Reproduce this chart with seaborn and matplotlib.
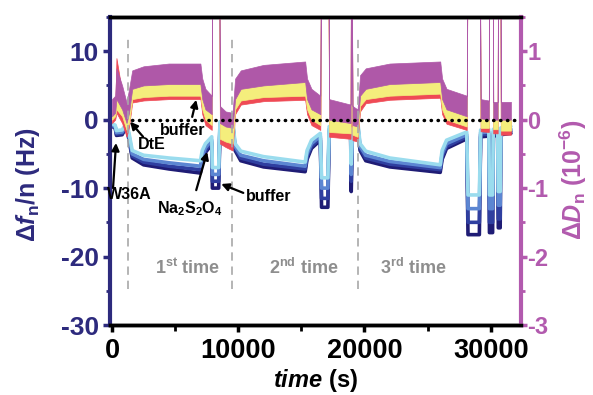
import matplotlib
matplotlib.use("Agg")
import matplotlib.pyplot as plt
from matplotlib.ticker import MultipleLocator
import seaborn as sns
import pandas as pd

# ---------------- data ----------------
time_s = [0, 250, 350, 800, 1150, 1350, 1600, 2500, 4500, 7000, 7150, 7400, 7900,
          7950, 8450, 8550, 9000, 9550, 9750, 10200, 12000, 15300, 15450, 15800,
          16500, 16600, 17100, 17200, 18900, 18950, 19050, 19450, 19650, 20100,
          22000, 26000, 26150, 26500, 28100, 28200, 29100, 29200, 29850, 29900,
          30150, 30200, 30550, 30600, 30750, 30800, 31600]

# frequency shifts (Hz), four overtones
f_navy = [-1.0, -1.2, -2.3, -2.2, -1.0, -3.0, -5.6, -6.6, -7.2, -7.8, -6.2, -4.8, -3.6,
          -10.0, -10.0, -1.2, -0.8, -0.6, -4.5, -6.0, -6.9, -7.6, -5.8, -4.2,
          -3.0, -12.8, -12.8, -2.0, -1.5, -10.5, -1.5, -1.0, -4.5, -6.0,
          -6.9, -7.7, -5.8, -4.2, -2.8, -16.8, -16.8, -2.5, -2.4, -16.5,
          -16.5, -2.4, -2.3, -15.8, -15.8, -2.2, -2.0]
f_dark = [-0.9, -1.1, -2.1, -2.0, -0.9, -2.7, -5.3, -6.2, -6.8, -7.3, -5.8, -4.5, -3.3,
          -9.0, -9.0, -0.9, -0.6, -0.4, -4.2, -5.6, -6.5, -7.2, -5.4, -3.9,
          -2.7, -11.5, -11.5, -1.7, -1.2, -9.0, -1.2, -0.7, -4.2, -5.6,
          -6.5, -7.3, -5.4, -3.9, -2.5, -15.0, -15.0, -2.2, -2.1, -15.0,
          -15.0, -2.1, -2.0, -14.5, -14.5, -1.9, -1.7]
f_blue = [-0.8, -1.0, -1.9, -1.8, -0.7, -2.4, -5.0, -5.8, -6.3, -6.8, -5.3, -4.1, -3.0,
          -8.0, -8.0, -0.6, -0.3, -0.2, -3.9, -5.2, -6.0, -6.8, -5.0, -3.5,
          -2.4, -10.0, -10.0, -1.4, -0.9, -8.0, -0.9, -0.4, -3.9, -5.2,
          -6.1, -7.0, -5.0, -3.5, -2.2, -13.0, -13.0, -1.9, -1.8, -13.0,
          -13.0, -1.8, -1.7, -12.5, -12.5, -1.6, -1.4]
f_cyan = [-0.6, -0.8, -1.6, -1.5, -0.5, -2.0, -4.5, -5.2, -5.6, -6.0, -4.5, -3.5, -2.5,
          -7.0, -7.0, -0.3, 0.0, 0.1, -3.5, -4.6, -5.4, -6.2, -4.5, -3.0,
          -2.0, -8.5, -8.5, -1.0, -0.5, -6.5, -0.5, 0.0, -3.5, -4.6,
          -5.6, -6.6, -4.5, -3.0, -1.8, -11.0, -11.0, -1.5, -1.4, -11.0,
          -11.0, -1.4, -1.3, -10.5, -10.5, -1.2, -1.0]

# dissipation shifts (1e-6): noise band edges (low / high)
d_red_lo = [-0.05, 0.0, 0.1, -0.05, -0.25, -0.1, 0.25, 0.28, 0.3, 0.3, 0.08, -0.08, -0.15,
            4, 4, -0.35, -0.4, -0.45, 0.08, 0.22, 0.27, 0.29, 0.08, -0.08,
            -0.15, 4, 4, -0.25, -0.28, 4, -0.3, -0.32, 0.12, 0.24,
            0.29, 0.32, 0.08, -0.06, -0.15, 4, 4, -0.17, -0.18, 4,
            4, -0.2, -0.2, 4, 4, -0.22, -0.22]
d_red_hi = [0.1, 0.15, 0.9, 0.4, 0.0, 0.1, 0.4, 0.45, 0.45, 0.45, 0.3, 0.1, 0.0,
            4, 4, -0.1, -0.15, -0.2, 0.3, 0.4, 0.45, 0.5, 0.3, 0.1,
            0.0, 4, 4, -0.05, -0.1, 4, -0.1, -0.15, 0.35, 0.45,
            0.48, 0.5, 0.3, 0.1, 0.0, 4, 4, 0.0, 0.0, 4,
            4, 0.0, 0.0, 4, 4, -0.02, -0.02]
d_yel_lo = [0.0, 0.05, 0.15, 0.05, -0.15, -0.05, 0.3, 0.33, 0.35, 0.35, 0.15, 0.0, -0.08,
            4, 4, -0.28, -0.32, -0.35, 0.15, 0.28, 0.33, 0.35, 0.15, 0.0,
            -0.08, 4, 4, -0.18, -0.2, 4, -0.22, -0.25, 0.2, 0.3,
            0.35, 0.38, 0.15, 0.0, -0.1, 4, 4, -0.12, -0.12, 4,
            4, -0.14, -0.14, 4, 4, -0.16, -0.16]
d_yel_hi = [0.15, 0.2, 0.4, 0.3, 0.05, 0.2, 0.5, 0.55, 0.56, 0.56, 0.35, 0.2, 0.12,
            4, 4, 0.0, -0.05, -0.08, 0.35, 0.5, 0.55, 0.58, 0.35, 0.2,
            0.1, 4, 4, 0.05, 0.0, 4, -0.02, -0.05, 0.4, 0.52,
            0.56, 0.6, 0.35, 0.2, 0.08, 4, 4, 0.05, 0.04, 4,
            4, 0.03, 0.03, 4, 4, 0.02, 0.02]
d_mag_lo = [0.05, 0.1, 0.3, 0.15, -0.05, 0.1, 0.45, 0.5, 0.52, 0.52, 0.3, 0.15, 0.08,
            4, 4, -0.05, -0.1, -0.12, 0.3, 0.45, 0.5, 0.55, 0.3, 0.15,
            0.08, 4, 4, 0.0, -0.05, 4, -0.08, -0.1, 0.35, 0.45,
            0.52, 0.55, 0.3, 0.15, 0.05, 4, 4, 0.02, 0.0, 4,
            4, 0.0, 0.0, 4, 4, 0.0, 0.0]
d_mag_hi = [0.3, 0.35, 0.75, 0.5, 0.25, 0.45, 0.72, 0.78, 0.82, 0.82, 0.6, 0.45, 0.35,
            4, 4, 0.2, 0.12, 0.1, 0.6, 0.72, 0.8, 0.85, 0.6, 0.45,
            0.35, 4, 4, 0.3, 0.22, 4, 0.2, 0.15, 0.65, 0.75,
            0.82, 0.85, 0.6, 0.45, 0.35, 4, 4, 0.3, 0.28, 4,
            4, 0.26, 0.26, 4, 4, 0.26, 0.26]

event_lines = [1270, 9500, 19450]
stage_labels = [r"1$^{\mathrm{st}}$ time", r"2$^{\mathrm{nd}}$ time", r"3$^{\mathrm{rd}}$ time"]
stage_x = [5990, 15160, 23900]

# ---------------- style ----------------
NAVY = "#2D2A7D"
PURPLE = "#B25AAE"
sns.set_theme(style="ticks")
plt.rcParams.update({
    "font.family": ["Liberation Sans", "DejaVu Sans"],
    "font.weight": "bold",
    "axes.unicode_minus": False,
    "mathtext.fontset": "custom",
    "mathtext.rm": "Liberation Sans:bold",
    "mathtext.bf": "Liberation Sans:bold",
    "mathtext.it": "Liberation Sans:italic:bold",
    "mathtext.sf": "Liberation Sans:bold",
})

fig = plt.figure(figsize=(5.93, 3.95), dpi=100)
ax = fig.add_axes([0.1855, 0.1772, 0.6931, 0.7798])

rows = []
for name, vals in [("navy", f_navy), ("dark", f_dark), ("blue", f_blue), ("cyan", f_cyan)]:
    for t, v in zip(time_s, vals):
        rows.append({"time": t, "df": v, "trace": name})
df = pd.DataFrame(rows)
pal = {"navy": "#1F1C75", "dark": "#2F3FA0", "blue": "#5C86D2", "cyan": "#9ADCEE"}
sns.lineplot(data=df, x="time", y="df", hue="trace", palette=pal, estimator=None,
             sort=False, lw=2.6, legend=False, ax=ax)

ax.set_xlim(-160, 32400)
ax.set_ylim(-30, 15)

ax2 = ax.twinx()
ax2.set_ylim(-3, 1.5)
ax2.fill_between(time_s, d_red_lo, d_red_hi, color="#EF4A55", lw=0.5)
ax2.fill_between(time_s, d_yel_lo, d_yel_hi, color="#F4EE7C", lw=0.5)
ax2.fill_between(time_s, d_mag_lo, d_mag_hi, color="#AF58A8", lw=0.5)

# zero reference line
ax2.plot([1600, 32100], [0, 0], color="black", lw=2.5, linestyle=(0, (0.1, 1.9)),
         dash_capstyle="round")
# stage separators
for t in event_lines:
    ax2.plot([t, t], [-2.47, 1.18], color="#A8A8A8", lw=1.2, linestyle=(0, (5, 3.5)))
for t, s in zip(stage_x, stage_labels):
    ax2.text(t, -2.16, s, color="#8E8E8E", fontsize=13, ha="center", va="center",
             fontweight="bold")

# annotations (in frequency coordinates)
arrows = [((80, -10.0), (320, -3.4)), ((2460, -2.5), (1430, -0.3)),
          ((6350, 0.4), (6670, 2.9)), ((6670, -10.3), (7540, -4.7)),
          ((10400, -10.7), (8650, -9.4))]
for (start, end) in arrows:
    ax2.annotate("", xy=end, xycoords=ax.transData, xytext=start, textcoords=ax.transData,
                 arrowprops=dict(arrowstyle="-|>", color="black", lw=1.6,
                                 mutation_scale=11, shrinkA=0, shrinkB=0))
labels = [("W36A", 1350, -11.0), ("DtE", 3130, -3.7), ("buffer", 5600, -1.6),
          (r"Na$_2$S$_2$O$_4$", 6150, -13.0), ("buffer", 12420, -11.2)]
for s, t, v in labels:
    ax2.text(t, v, s, transform=ax.transData, fontsize=11.5, ha="center", va="center",
             color="black", fontweight="bold")

# ---------------- axes styling ----------------
ax.xaxis.set_major_locator(MultipleLocator(10000))
ax.xaxis.set_minor_locator(MultipleLocator(5000))
ax.yaxis.set_major_locator(MultipleLocator(10))
ax.yaxis.set_minor_locator(MultipleLocator(5))
ax2.yaxis.set_major_locator(MultipleLocator(1))
ax2.yaxis.set_minor_locator(MultipleLocator(0.5))

ax.tick_params(axis="x", which="major", colors="black", labelsize=19.5, width=2.5, length=5, pad=4)
ax.tick_params(axis="x", which="minor", colors="black", width=2, length=4)
ax.tick_params(axis="y", which="major", colors=NAVY, labelsize=19, width=2.5, length=5, pad=3)
ax.tick_params(axis="y", which="minor", colors=NAVY, width=2, length=3)
ax2.tick_params(axis="y", which="major", colors=PURPLE, labelsize=17, width=2.5, length=4, pad=0.5)
ax2.tick_params(axis="y", which="minor", colors=PURPLE, width=2, length=3)
for lab in ax.get_xticklabels() + ax.get_yticklabels() + ax2.get_yticklabels():
    lab.set_fontweight("bold")

ax.spines["left"].set_color(NAVY)
ax.spines["left"].set_linewidth(3)
ax2.spines["right"].set_color(PURPLE)
ax2.spines["right"].set_linewidth(3)
for a in (ax, ax2):
    a.spines["top"].set_color("black")
    a.spines["top"].set_linewidth(2.5)
    a.spines["bottom"].set_color("black")
    a.spines["bottom"].set_linewidth(2.5)
ax2.spines["left"].set_visible(False)
ax.spines["right"].set_visible(False)

ax.set_xlabel(r"$\mathit{time}$ (s)", fontsize=17, fontweight="bold", color="black")
ax.xaxis.set_label_coords(0.501, -0.135)
ax.set_ylabel(r"$\mathit{\Delta f}_\mathrm{n}$/n (Hz)", fontsize=18, fontweight="bold", color=NAVY)
ax.yaxis.set_label_coords(-0.165, 0.455)
ax2.set_ylabel(r"$\mathit{\Delta D}_\mathrm{n}$ (10$^{\mathrm{-6}}$)", fontsize=18,
               fontweight="bold", color=PURPLE)
ax2.yaxis.set_label_coords(1.088, 0.47)

fig.savefig("out.png", dpi=100)
